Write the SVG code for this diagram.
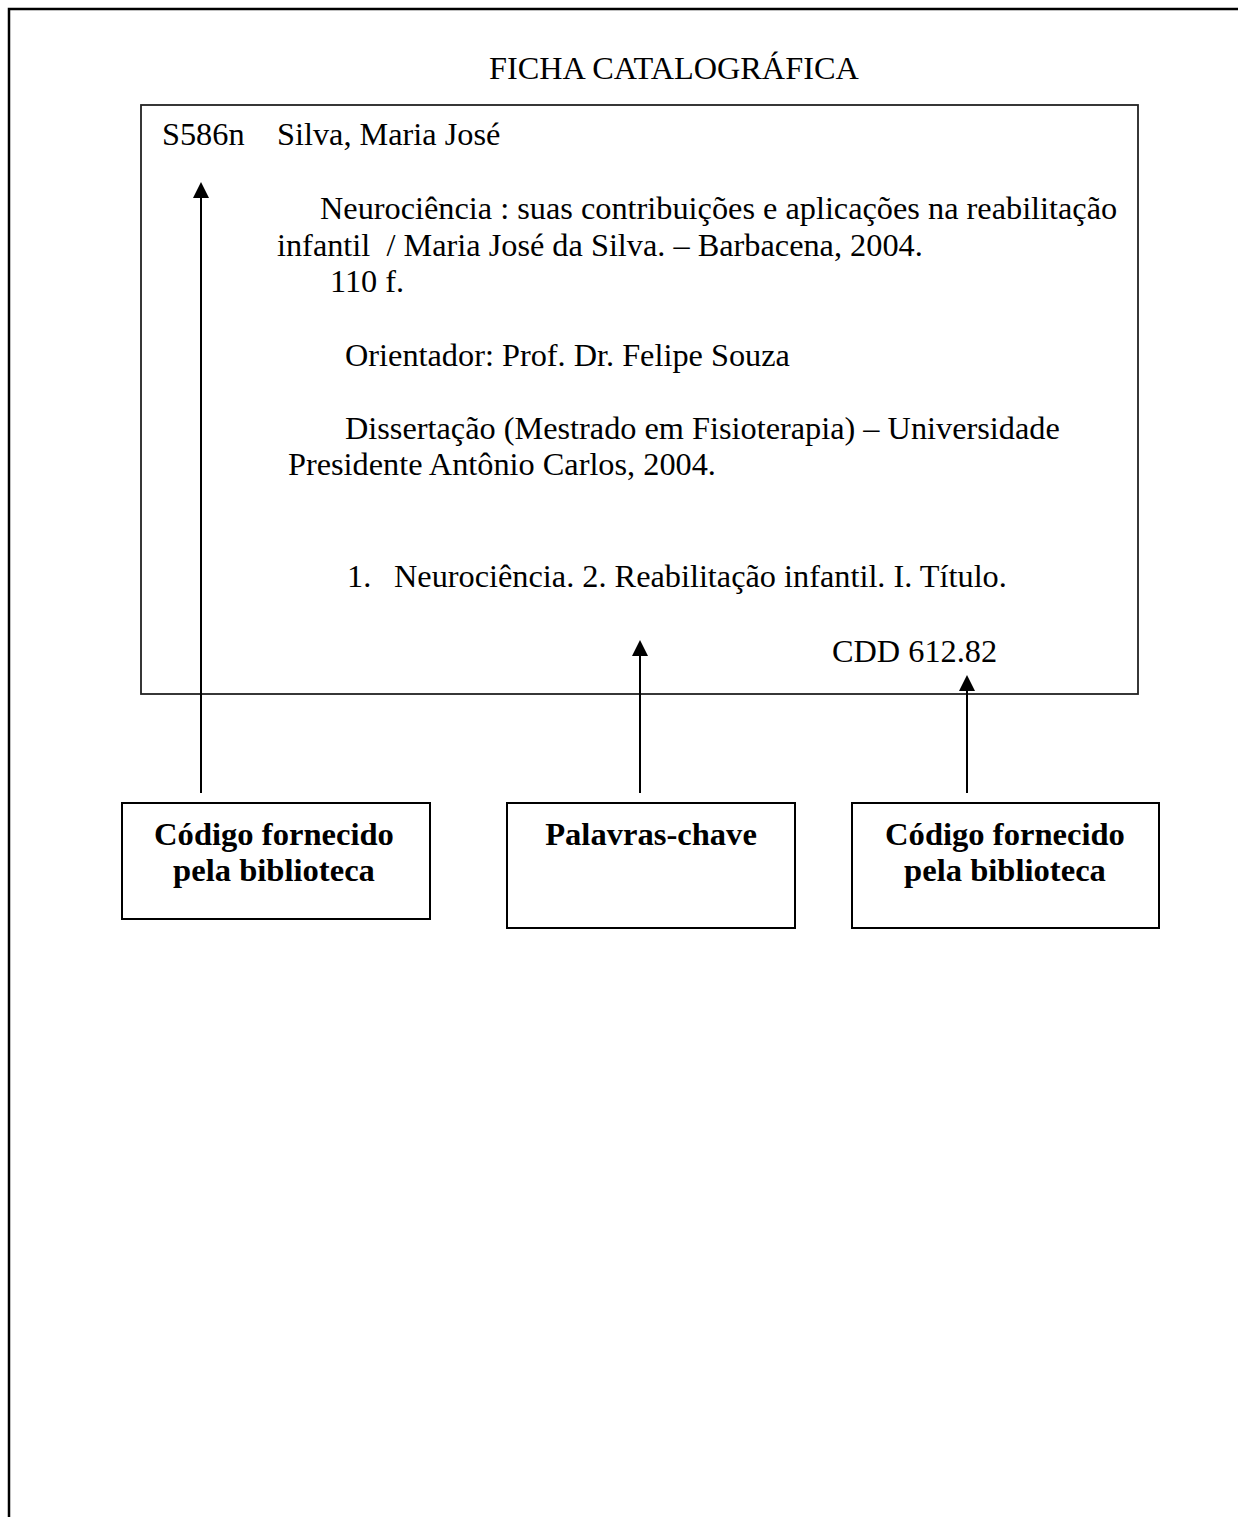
<svg xmlns="http://www.w3.org/2000/svg" width="1238" height="1517" viewBox="0 0 1238 1517">
<style>
.t{font-family:"Liberation Serif","Times New Roman",serif;font-size:32.3px;fill:#000}
.b{font-family:"Liberation Serif","Times New Roman",serif;font-size:32.6px;font-weight:bold;fill:#000;text-anchor:middle}
.box{fill:#fff;stroke:#000;stroke-width:2}
.card{fill:none;stroke:#222;stroke-width:1.8}
.ar{stroke:#000;stroke-width:2;fill:none}
</style>
<rect width="1238" height="1517" fill="#fff"/>
<path d="M9,1517 V9 H1238" fill="none" stroke="#000" stroke-width="2.5"/>
<text class="t" x="489" y="79">FICHA CATALOGRÁFICA</text>
<g id="card">
<rect class="card" x="141" y="105" width="997" height="589"/>
<text class="t" x="162" y="145">S586n</text>
<text class="t" x="277" y="145">Silva, Maria José</text>
<text class="t" x="320" y="219">Neurociência : suas contribuições e aplicações na reabilitação</text>
<text class="t" x="277" y="256" xml:space="preserve">infantil  / Maria José da Silva. – Barbacena, 2004.</text>
<text class="t" x="330" y="292">110 f.</text>
<text class="t" x="345" y="366">Orientador: Prof. Dr. Felipe Souza</text>
<text class="t" x="345" y="439">Dissertação (Mestrado em Fisioterapia) – Universidade</text>
<text class="t" x="288" y="475">Presidente Antônio Carlos, 2004.</text>
<text class="t" x="347" y="587">1.</text>
<text class="t" x="394" y="587">Neurociência. 2. Reabilitação infantil. I. Título.</text>
<text class="t" x="832" y="662">CDD 612.82</text>
</g>
<g id="connectors">
<line class="ar" x1="201" y1="793" x2="201" y2="198"/>
<path d="M193,198 L201,182 L209,198 Z" fill="#000"/>
<line class="ar" x1="640" y1="793" x2="640" y2="656"/>
<path d="M632,656 L640,640 L648,656 Z" fill="#000"/>
<line class="ar" x1="967" y1="793" x2="967" y2="691"/>
<path d="M959,691 L967,675 L975,691 Z" fill="#000"/>
</g>
<g id="node-codigo-1">
<rect class="box" x="122" y="803" width="308" height="116"/>
<text class="b" x="274" y="845">Código fornecido</text>
<text class="b" x="274" y="881">pela biblioteca</text>
</g>
<g id="node-palavras">
<rect class="box" x="507" y="803" width="288" height="125"/>
<text class="b" x="651" y="845">Palavras-chave</text>
</g>
<g id="node-codigo-2">
<rect class="box" x="852" y="803" width="307" height="125"/>
<text class="b" x="1005" y="845">Código fornecido</text>
<text class="b" x="1005" y="881">pela biblioteca</text>
</g>
</svg>
